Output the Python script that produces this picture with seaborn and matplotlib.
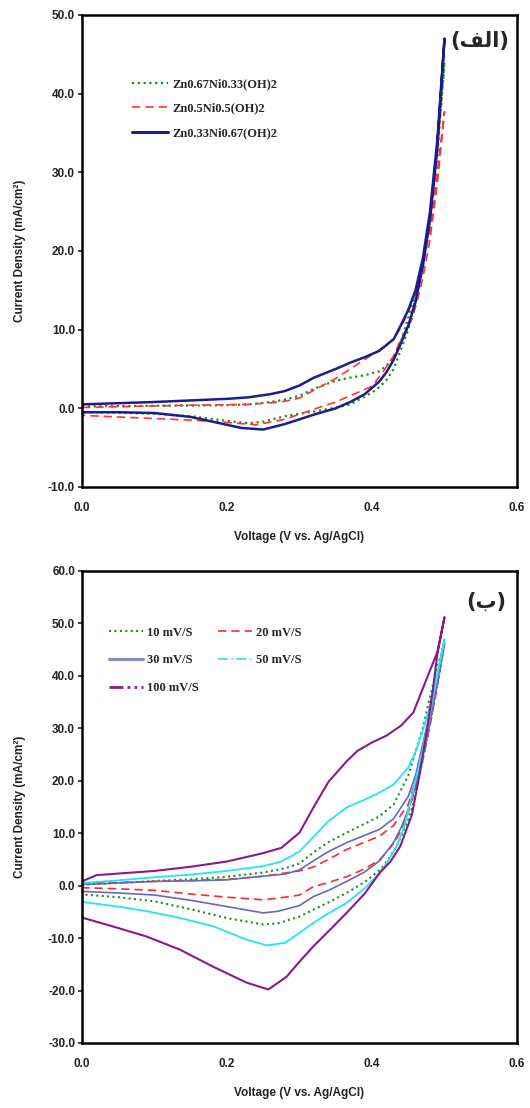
import numpy as np
import pandas as pd
import matplotlib
matplotlib.use("Agg")
import matplotlib.pyplot as plt
import seaborn as sns
from matplotlib.lines import Line2D
from matplotlib.ticker import FormatStrFormatter

sns.set_style("ticks")
plt.rcParams['font.family'] = ['Liberation Sans', 'DejaVu Sans']

# ---------------- Panel (a): composition ----------------
labels_a = ["Zn0.67Ni0.33(OH)2", "Zn0.5Ni0.5(OH)2", "Zn0.33Ni0.67(OH)2"]

# Zn0.67Ni0.33(OH)2
a1_fwd_v = [0.00, 0.05, 0.10, 0.15, 0.20, 0.23, 0.26, 0.28, 0.30, 0.32, 0.35, 0.37, 0.39, 0.41, 0.42, 0.43, 0.44, 0.45, 0.46, 0.47, 0.48, 0.49, 0.50]
a1_fwd_i = [0.25, 0.28, 0.32, 0.35, 0.40, 0.50, 0.80, 1.1, 1.6, 2.5, 3.5, 3.9, 4.2, 4.7, 5.4, 6.5, 8.5, 11.5, 14.5, 18.5, 24.5, 33.0, 44.0]
a1_rev_v = [0.50, 0.49, 0.48, 0.47, 0.46, 0.455, 0.45, 0.44, 0.43, 0.42, 0.41, 0.40, 0.37, 0.35, 0.32, 0.28, 0.25, 0.23, 0.20, 0.15, 0.10, 0.05, 0.00]
a1_rev_i = [44.0, 32.0, 24.0, 18.0, 14.0, 12.0, 10.0, 7.5, 5.0, 3.6, 2.7, 2.0, 0.5, 0.1, -0.4, -1.0, -1.7, -1.9, -1.6, -1.0, -0.7, -0.55, -0.5]

# Zn0.5Ni0.5(OH)2
a2_fwd_v = [0.00, 0.05, 0.10, 0.15, 0.20, 0.23, 0.26, 0.28, 0.30, 0.32, 0.35, 0.37, 0.39, 0.41, 0.43, 0.44, 0.45, 0.46, 0.47, 0.48, 0.49, 0.50]
a2_fwd_i = [0.1, 0.2, 0.3, 0.4, 0.45, 0.5, 0.7, 0.9, 1.3, 2.3, 3.8, 5.0, 6.2, 7.4, 8.8, 10.3, 12.2, 14.8, 18.0, 23.0, 30.0, 37.7]
a2_rev_v = [0.50, 0.49, 0.48, 0.47, 0.463, 0.455, 0.44, 0.43, 0.415, 0.40, 0.37, 0.35, 0.32, 0.28, 0.24, 0.20, 0.15, 0.10, 0.05, 0.00]
a2_rev_i = [37.7, 28.5, 21.5, 16.5, 13.9, 11.3, 8.8, 6.7, 4.6, 2.8, 1.6, 0.8, -0.1, -1.4, -2.1, -1.8, -1.5, -1.3, -1.1, -0.9]

# Zn0.33Ni0.67(OH)2
a3_fwd_v = [0.00, 0.05, 0.10, 0.15, 0.20, 0.23, 0.26, 0.28, 0.30, 0.32, 0.35, 0.37, 0.39, 0.41, 0.43, 0.44, 0.45, 0.46, 0.47, 0.48, 0.49, 0.50]
a3_fwd_i = [0.5, 0.65, 0.8, 1.0, 1.2, 1.4, 1.8, 2.2, 2.9, 3.9, 5.0, 5.8, 6.5, 7.3, 8.8, 10.6, 12.5, 15.0, 19.0, 25.0, 34.0, 47.0]
a3_rev_v = [0.50, 0.49, 0.48, 0.47, 0.46, 0.45, 0.44, 0.43, 0.42, 0.41, 0.39, 0.37, 0.35, 0.32, 0.28, 0.25, 0.22, 0.20, 0.15, 0.10, 0.05, 0.00]
a3_rev_i = [47.0, 33.0, 24.0, 18.0, 13.5, 10.5, 8.3, 6.2, 4.6, 3.4, 1.8, 0.8, 0.0, -0.8, -2.0, -2.7, -2.5, -2.1, -1.1, -0.6, -0.5, -0.5]

# ---------------- Panel (b): scan rate ----------------
labels_b = ["10 mV/S", "20 mV/S", "30 mV/S", "50 mV/S", "100 mV/S"]

b10_fwd_v = [0.00, 0.05, 0.10, 0.15, 0.20, 0.25, 0.28, 0.30, 0.32, 0.34, 0.365, 0.39, 0.41, 0.43, 0.45, 0.47, 0.48, 0.49, 0.50]
b10_fwd_i = [0.2, 0.5, 0.9, 1.2, 1.7, 2.5, 3.3, 4.2, 6.4, 8.3, 10.1, 11.8, 13.2, 15.5, 21.0, 30.0, 36.0, 41.5, 46.5]
b10_rev_v = [0.50, 0.49, 0.48, 0.47, 0.46, 0.45, 0.434, 0.42, 0.411, 0.39, 0.365, 0.34, 0.319, 0.30, 0.27, 0.25, 0.20, 0.15, 0.10, 0.05, 0.00]
b10_rev_i = [46.5, 38.0, 31.0, 24.0, 17.0, 12.5, 7.5, 4.5, 3.0, 0.7, -1.4, -3.2, -4.6, -5.9, -7.2, -7.4, -6.2, -4.5, -3.0, -2.2, -1.7]

b20_fwd_v = [0.00, 0.05, 0.10, 0.15, 0.20, 0.25, 0.28, 0.30, 0.32, 0.34, 0.365, 0.39, 0.41, 0.43, 0.45, 0.46, 0.47, 0.48, 0.49, 0.50]
b20_fwd_i = [0.5, 0.6, 0.8, 1.0, 1.2, 1.8, 2.4, 2.8, 3.6, 5.0, 6.9, 8.3, 9.4, 11.5, 15.5, 20.0, 26.0, 32.5, 39.5, 46.0]
b20_rev_v = [0.50, 0.49, 0.48, 0.47, 0.46, 0.45, 0.44, 0.43, 0.411, 0.39, 0.365, 0.34, 0.319, 0.30, 0.27, 0.25, 0.20, 0.15, 0.10, 0.05, 0.00]
b20_rev_i = [46.0, 38.0, 30.5, 24.0, 18.5, 14.0, 10.5, 8.0, 5.0, 3.2, 1.7, 0.6, -0.2, -1.8, -2.4, -2.7, -2.2, -1.6, -0.9, -0.6, -0.4]

b30_fwd_v = [0.00, 0.05, 0.10, 0.15, 0.20, 0.25, 0.28, 0.30, 0.32, 0.34, 0.365, 0.39, 0.41, 0.43, 0.45, 0.46, 0.47, 0.48, 0.49, 0.50]
b30_fwd_i = [0.2, 0.5, 0.8, 0.9, 1.1, 1.8, 2.2, 3.0, 4.8, 6.5, 8.2, 9.6, 10.7, 12.8, 17.0, 21.0, 27.0, 33.0, 40.0, 46.5]
b30_rev_v = [0.50, 0.49, 0.48, 0.47, 0.46, 0.45, 0.44, 0.43, 0.411, 0.39, 0.365, 0.34, 0.319, 0.30, 0.27, 0.25, 0.20, 0.15, 0.10, 0.05, 0.00]
b30_rev_i = [46.5, 38.5, 31.0, 24.5, 19.0, 14.5, 11.0, 8.3, 4.8, 2.6, 0.8, -0.9, -2.1, -3.8, -4.9, -5.2, -4.0, -2.8, -1.8, -1.4, -1.1]

b50_fwd_v = [0.00, 0.05, 0.10, 0.15, 0.20, 0.25, 0.275, 0.30, 0.32, 0.34, 0.365, 0.39, 0.41, 0.43, 0.45, 0.46, 0.47, 0.48, 0.49, 0.50]
b50_fwd_i = [0.5, 1.0, 1.6, 2.1, 2.8, 3.7, 4.6, 6.5, 9.4, 12.3, 14.9, 16.4, 17.7, 19.3, 22.5, 25.5, 29.5, 34.2, 40.5, 47.0]
b50_rev_v = [0.50, 0.49, 0.48, 0.47, 0.457, 0.445, 0.434, 0.42, 0.411, 0.39, 0.365, 0.34, 0.319, 0.30, 0.28, 0.255, 0.227, 0.18, 0.13, 0.09, 0.05, 0.00]
b50_rev_i = [47.0, 40.0, 33.0, 26.0, 18.3, 11.5, 7.5, 4.3, 2.5, -0.5, -3.3, -5.3, -7.1, -9.0, -10.9, -11.4, -10.3, -7.7, -6.0, -4.9, -4.0, -3.1]

b100_fwd_v = [0.00, 0.02, 0.05, 0.10, 0.15, 0.20, 0.25, 0.275, 0.30, 0.32, 0.34, 0.365, 0.38, 0.40, 0.42, 0.44, 0.457, 0.475, 0.49, 0.50]
b100_fwd_i = [0.8, 2.0, 2.3, 2.8, 3.6, 4.6, 6.2, 7.2, 10.1, 15.1, 19.8, 23.7, 25.7, 27.3, 28.6, 30.5, 33.0, 39.3, 44.5, 51.2]
b100_rev_v = [0.50, 0.49, 0.484, 0.475, 0.466, 0.455, 0.439, 0.425, 0.411, 0.39, 0.365, 0.34, 0.319, 0.30, 0.282, 0.257, 0.227, 0.18, 0.135, 0.089, 0.043, 0.00]
b100_rev_i = [51.2, 44.0, 37.4, 29.0, 21.5, 13.5, 7.5, 4.5, 2.5, -1.5, -5.2, -8.7, -11.6, -14.5, -17.4, -19.8, -18.5, -15.4, -12.2, -9.7, -7.8, -6.1]

y_ticks_a = [-10, 0, 10, 20, 30, 40, 50]
y_ticks_b = [-30, -20, -10, 0, 10, 20, 30, 40, 50, 60]
x_ticks = [0.0, 0.2, 0.4, 0.6]


def loop_df(fv, fi, rv, ri):
    return pd.DataFrame({"V": list(fv) + list(rv), "I": list(fi) + list(ri)})


fig = plt.figure(figsize=(5.3, 11.08), dpi=100)
ax1 = fig.add_axes([0.1547, 0.5605, 0.8208, 0.426])
ax2 = fig.add_axes([0.1547, 0.0587, 0.8208, 0.426])

green = "#1f8f1f"
red = "#ff3535"
navy = "#1c1c8c"

styles_a = [
    dict(color=green, lw=1.6, ls=(0, (1, 1.6))),
    dict(color=red, lw=1.2, ls=(0, (5, 3))),
    dict(color=navy, lw=1.8, ls="-"),
]
data_a = [
    loop_df(a1_fwd_v, a1_fwd_i, a1_rev_v, a1_rev_i),
    loop_df(a2_fwd_v, a2_fwd_i, a2_rev_v, a2_rev_i),
    loop_df(a3_fwd_v, a3_fwd_i, a3_rev_v, a3_rev_i),
]
for df, st in zip(data_a, styles_a):
    sns.lineplot(data=df, x="V", y="I", sort=False, estimator=None, ax=ax1,
                 color=st["color"], linewidth=st["lw"], linestyle=st["ls"], legend=False)

styles_b = [
    dict(color="#1f8f1f", lw=1.5, ls=(0, (1, 1.6))),
    dict(color="#ff2a2a", lw=1.2, ls=(0, (5, 3))),
    dict(color="#6868b8", lw=1.2, ls="-"),
    dict(color="#22e6f0", lw=1.3, ls="-"),
    dict(color="#8a1a8a", lw=1.5, ls="-"),
]
legend_ls_b = [(0, (1, 1.6)), (0, (5, 3)), "-", (0, (6, 2, 1, 2)), (0, (5, 1.5, 1, 1.5, 1, 1.5))]
legend_lw_b = [1.5, 1.2, 2.2, 1.2, 2.0]
legend_col_b = ["#1f8f1f", "#ff2a2a", "#8888cc", "#22e6f0", "#8a1a8a"]
data_b = [
    loop_df(b10_fwd_v, b10_fwd_i, b10_rev_v, b10_rev_i),
    loop_df(b20_fwd_v, b20_fwd_i, b20_rev_v, b20_rev_i),
    loop_df(b30_fwd_v, b30_fwd_i, b30_rev_v, b30_rev_i),
    loop_df(b50_fwd_v, b50_fwd_i, b50_rev_v, b50_rev_i),
    loop_df(b100_fwd_v, b100_fwd_i, b100_rev_v, b100_rev_i),
]
for df, st in zip(data_b, styles_b):
    sns.lineplot(data=df, x="V", y="I", sort=False, estimator=None, ax=ax2,
                 color=st["color"], linewidth=st["lw"], linestyle=st["ls"], legend=False)

for ax, yt in ((ax1, y_ticks_a), (ax2, y_ticks_b)):
    ax.set_xlim(x_ticks[0], x_ticks[-1])
    ax.set_ylim(yt[0], yt[-1])
    ax.set_xticks(x_ticks)
    ax.set_yticks(yt)
    ax.xaxis.set_major_formatter(FormatStrFormatter("%.1f"))
    ax.yaxis.set_major_formatter(FormatStrFormatter("%.1f"))
    for lab in ax.get_xticklabels() + ax.get_yticklabels():
        lab.set_fontfamily("Liberation Sans")
        lab.set_fontweight("bold")
        lab.set_fontsize(8.5)
        lab.set_color("#222222")
    ax.tick_params(axis="y", direction="out", length=3, width=1.2, pad=2)
    ax.tick_params(axis="x", direction="out", length=0, pad=11)
    for sp in ax.spines.values():
        sp.set_visible(True)
        sp.set_linewidth(1.8)
        sp.set_color("black")
    ax.set_xlabel("Voltage (V vs. Ag/AgCl)", fontfamily="Liberation Sans",
                  fontweight="bold", fontsize=8.5, labelpad=12, color="#222222")
    ax.set_ylabel("Current Density (mA/cm²)", fontfamily="Liberation Sans",
                  fontweight="bold", fontsize=8.5, labelpad=16, color="#222222")

# legends
handles_a = [Line2D([], [], color=st["color"], lw=st["lw"] + (0.4 if i == 2 else 0), linestyle=st["ls"])
             for i, st in enumerate(styles_a)]
leg1 = ax1.legend(handles_a, labels_a, loc="upper left", bbox_to_anchor=(0.115, 0.866),
                  frameon=False, borderpad=0, borderaxespad=0, handlelength=2.9,
                  handletextpad=0.35, labelspacing=1.0,
                  prop=dict(family="Liberation Serif", weight="bold", size=9))

handles_b = [Line2D([], [], color=c, lw=lw, linestyle=ls)
             for c, ls, lw in zip(legend_col_b, legend_ls_b, legend_lw_b)]
order = [0, 2, 4, 1, 3]  # fill rows: 10|20, 30|50, 100
leg2 = ax2.legend([handles_b[k] for k in order], [labels_b[k] for k in order],
                  loc="upper left", bbox_to_anchor=(0.062, 0.882), ncol=2,
                  frameon=False, borderpad=0, borderaxespad=0, handlelength=2.7,
                  handletextpad=0.35, labelspacing=1.25, columnspacing=1.55,
                  prop=dict(family="Liberation Serif", weight="bold", size=9))

# Arabic panel labels (pre-shaped presentation forms, visual order)
alef_label = "(" + "\ufed2\ufedf\ufe8d" + ")"
ax1.text(0.915, 0.945, alef_label, transform=ax1.transAxes, ha="center", va="center",
         fontfamily="DejaVu Sans", fontweight="bold", fontsize=15)
ax2.text(0.93, 0.935, "(ب)", transform=ax2.transAxes, ha="center", va="center",
         fontfamily="DejaVu Sans", fontweight="bold", fontsize=15)

fig.savefig("out.png", dpi=100, facecolor="white")
